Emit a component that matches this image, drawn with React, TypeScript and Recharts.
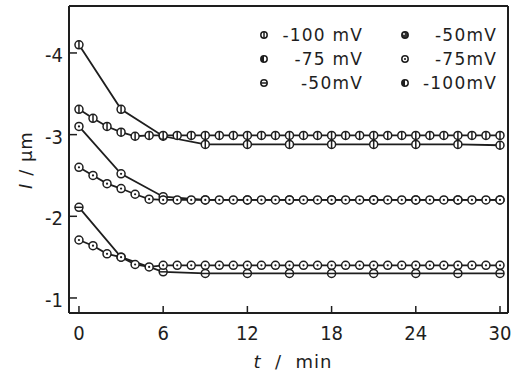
import React from "react";
import { LineChart, Line, XAxis, YAxis, Legend } from "recharts";

// time categories (min)
const tMinute = [0, 1, 2, 3, 4, 5, 6, 7, 8, 9, 10, 11, 12, 13, 14, 15, 16, 17, 18, 19, 20, 21, 22, 23, 24, 25, 26, 27, 28, 29, 30];
const tThree = [0, 3, 6, 9, 12, 15, 18, 21, 24, 27, 30];

// series values (I / µm)
const seriesA = [-4.10, -3.31, -2.98, -2.88, -2.88, -2.88, -2.88, -2.88, -2.88, -2.88, -2.87];
const seriesC = [-3.10, -2.52, -2.24, -2.20, -2.20, -2.20, -2.20, -2.20, -2.20, -2.20, -2.20];
const seriesE = [-2.11, -1.50, -1.32, -1.30, -1.30, -1.30, -1.30, -1.30, -1.30, -1.30, -1.30];
const seriesB = [-3.31, -3.20, -3.10, -3.03, -2.98, -2.99, -2.99, -2.99, -2.99, -2.99, -2.99, -2.99, -2.99, -2.99, -2.99, -2.99, -2.99, -2.99, -2.99, -2.99, -2.99, -2.99, -2.99, -2.99, -2.99, -2.99, -2.99, -2.99, -2.99, -2.99, -2.99];
const seriesD = [-2.60, -2.50, -2.40, -2.34, -2.27, -2.21, -2.20, -2.20, -2.20, -2.20, -2.20, -2.20, -2.20, -2.20, -2.20, -2.20, -2.20, -2.20, -2.20, -2.20, -2.20, -2.20, -2.20, -2.20, -2.20, -2.20, -2.20, -2.20, -2.20, -2.20, -2.20];
const seriesF = [-1.71, -1.64, -1.54, -1.50, -1.41, -1.38, -1.40, -1.40, -1.40, -1.40, -1.40, -1.40, -1.40, -1.40, -1.40, -1.40, -1.40, -1.40, -1.40, -1.40, -1.40, -1.40, -1.40, -1.40, -1.40, -1.40, -1.40, -1.40, -1.40, -1.40, -1.40];

const seriesNames = ["-100 mV", "-75 mV", "-50mV", "-50mV", "-75mV", "-100mV"];
const xTicks = [0, 6, 12, 18, 24, 30];
const yTicks = [-4, -3, -2, -1];

const INK = "#1e1e1e";
const FONT = "'DejaVu Sans Condensed', 'DejaVu Sans', sans-serif";

const zip = (ts: number[], vs: number[]) => ts.map((t, i) => ({ t, v: vs[i] }));

const Marker = ({ cx, cy, kind, r = 4 }: { cx: number; cy: number; kind: string; r?: number }) => {
  if (cx == null || cy == null) return null;
  const common = { stroke: INK, strokeWidth: 1.5 };
  return (
    <g>
      <circle cx={cx} cy={cy} r={r} fill={kind === "filled" ? "#333" : "#fff"} {...common} />
      {kind === "phi" && <line x1={cx} x2={cx} y1={cy - r} y2={cy + r} {...common} />}
      {kind === "theta" && <line x1={cx - r} x2={cx + r} y1={cy} y2={cy} {...common} />}
      {kind === "dot" && <circle cx={cx} cy={cy} r={1.1} fill={INK} />}
      {kind === "half" && <path d={`M${cx},${cy - r} A${r},${r} 0 0 0 ${cx},${cy + r} Z`} fill={INK} />}
      {kind === "filled" && <circle cx={cx - 1} cy={cy - 1} r={0.9} fill="#fff" />}
    </g>
  );
};

const mkDot = (kind: string) => (props: any) => (
  <Marker key={`d-${props.index}`} cx={props.cx} cy={props.cy} kind={kind} />
);

const legendKinds = ["phi", "half", "theta", "filled", "dot", "half"];

const renderLegend = () => {
  return (
    <div style={{ position: "relative", width: 260, height: 80, fontFamily: "'DejaVu Sans', sans-serif", fontSize: 17, letterSpacing: 1.2, color: INK }}>
      {seriesNames.map((name, i) => {
        const col = i < 3 ? 0 : 1;
        const row = i % 3;
        const symX = col === 0 ? 14 : 155;
        const right = col === 0 ? 113 : 247;
        const top = row * 24;
        return (
          <div key={i} style={{ position: "absolute", left: 0, top, width: 260, height: 24 }}>
            <svg width={12} height={12} style={{ position: "absolute", left: symX - 6, top: 6 }}>
              <Marker cx={6} cy={6} r={3.2} kind={legendKinds[i]} />
            </svg>
            <span style={{ position: "absolute", right: 260 - right, top: 0, lineHeight: "24px", whiteSpace: "nowrap" }}>
              {name}
            </span>
          </div>
        );
      })}
    </div>
  );
};

const YTick = (props: any) => {
  const { x, y, payload } = props;
  return (
    <g>
      <line x1={x} x2={x + 8} y1={y} y2={y} stroke={INK} strokeWidth={1.5} />
      <text x={x - 6} y={y + 9} textAnchor="end" fontFamily={FONT} fontSize={20} fill={INK}>
        {payload.value}
      </text>
    </g>
  );
};

const XTick = (props: any) => {
  const { x, y, payload } = props;
  return (
    <g>
      <line x1={x} x2={x} y1={y} y2={y - 7} stroke={INK} strokeWidth={1.5} />
      <text x={x} y={y + 27} textAnchor="middle" fontFamily={FONT} fontSize={20} fill={INK}>
        {payload.value}
      </text>
    </g>
  );
};

const lines = [
  { key: "A", data: zip(tThree, seriesA), kind: "phi", name: seriesNames[0] },
  { key: "C", data: zip(tThree, seriesC), kind: "dot", name: seriesNames[1] },
  { key: "E", data: zip(tThree, seriesE), kind: "theta", name: seriesNames[2] },
  { key: "B", data: zip(tMinute, seriesB), kind: "phi", name: seriesNames[3] },
  { key: "D", data: zip(tMinute, seriesD), kind: "dot", name: seriesNames[4] },
  { key: "F", data: zip(tMinute, seriesF), kind: "dot", name: seriesNames[5] },
];

const X_DOMAIN: [number, number] = [-0.71, 30.57];
const Y_DOMAIN: [number, number] = [-4.575, -0.816];

export default function App() {
  return (
    <div style={{ position: "absolute", left: 0, top: 0, width: 519, height: 373, background: "#fff" }}>
      <LineChart width={519} height={373} margin={{ top: 5, right: 10, bottom: 59, left: 68 }}>
        <XAxis
          xAxisId="b"
          dataKey="t"
          type="number"
          domain={X_DOMAIN}
          ticks={xTicks}
          allowDataOverflow
          height={1}
          tickSize={0}
          tickMargin={0}
          tickLine={false}
          tick={<XTick />}
          axisLine={{ stroke: INK, strokeWidth: 2 }}
        />
        <XAxis xAxisId="top" orientation="top" type="number" domain={X_DOMAIN} allowDataOverflow height={1} tick={false} tickLine={false} axisLine={{ stroke: INK, strokeWidth: 2 }} />
        <YAxis
          yAxisId="l"
          type="number"
          domain={Y_DOMAIN}
          reversed
          ticks={yTicks}
          allowDataOverflow
          width={1}
          tickSize={0}
          tickMargin={0}
          tickLine={false}
          tick={<YTick />}
          axisLine={{ stroke: INK, strokeWidth: 2 }}
        />
        <YAxis yAxisId="r" orientation="right" type="number" domain={Y_DOMAIN} reversed allowDataOverflow width={1} tick={false} tickLine={false} axisLine={{ stroke: INK, strokeWidth: 2 }} />
        <Legend layout="horizontal" verticalAlign="middle" align="center" content={renderLegend} wrapperStyle={{ position: "absolute", left: 250, top: 23, width: 260, height: 80 }} />
        {lines.map((s) => (
          <Line
            key={s.key}
            xAxisId="b"
            yAxisId="l"
            data={s.data}
            dataKey="v"
            name={s.name}
            type="linear"
            stroke={INK}
            strokeWidth={1.8}
            dot={mkDot(s.kind)}
            activeDot={false}
            isAnimationActive={false}
          />
        ))}
      </LineChart>
      <div
        style={{
          position: "absolute",
          left: 25,
          top: 160,
          transform: "translate(-50%, -50%) rotate(-90deg)",
          fontFamily: "'DejaVu Sans', sans-serif",
          fontSize: 18,
          color: INK,
          whiteSpace: "nowrap",
          letterSpacing: 1,
        }}
      >
        <i>I</i> / µm
      </div>
      <div
        style={{
          position: "absolute",
          left: 293,
          top: 361,
          transform: "translate(-50%, -50%)",
          fontFamily: "'DejaVu Sans', sans-serif",
          fontSize: 18,
          color: INK,
          whiteSpace: "nowrap",
          letterSpacing: 1,
        }}
      >
        <i>t</i>&nbsp;&nbsp;/&nbsp;&nbsp;min
      </div>
    </div>
  );
}
